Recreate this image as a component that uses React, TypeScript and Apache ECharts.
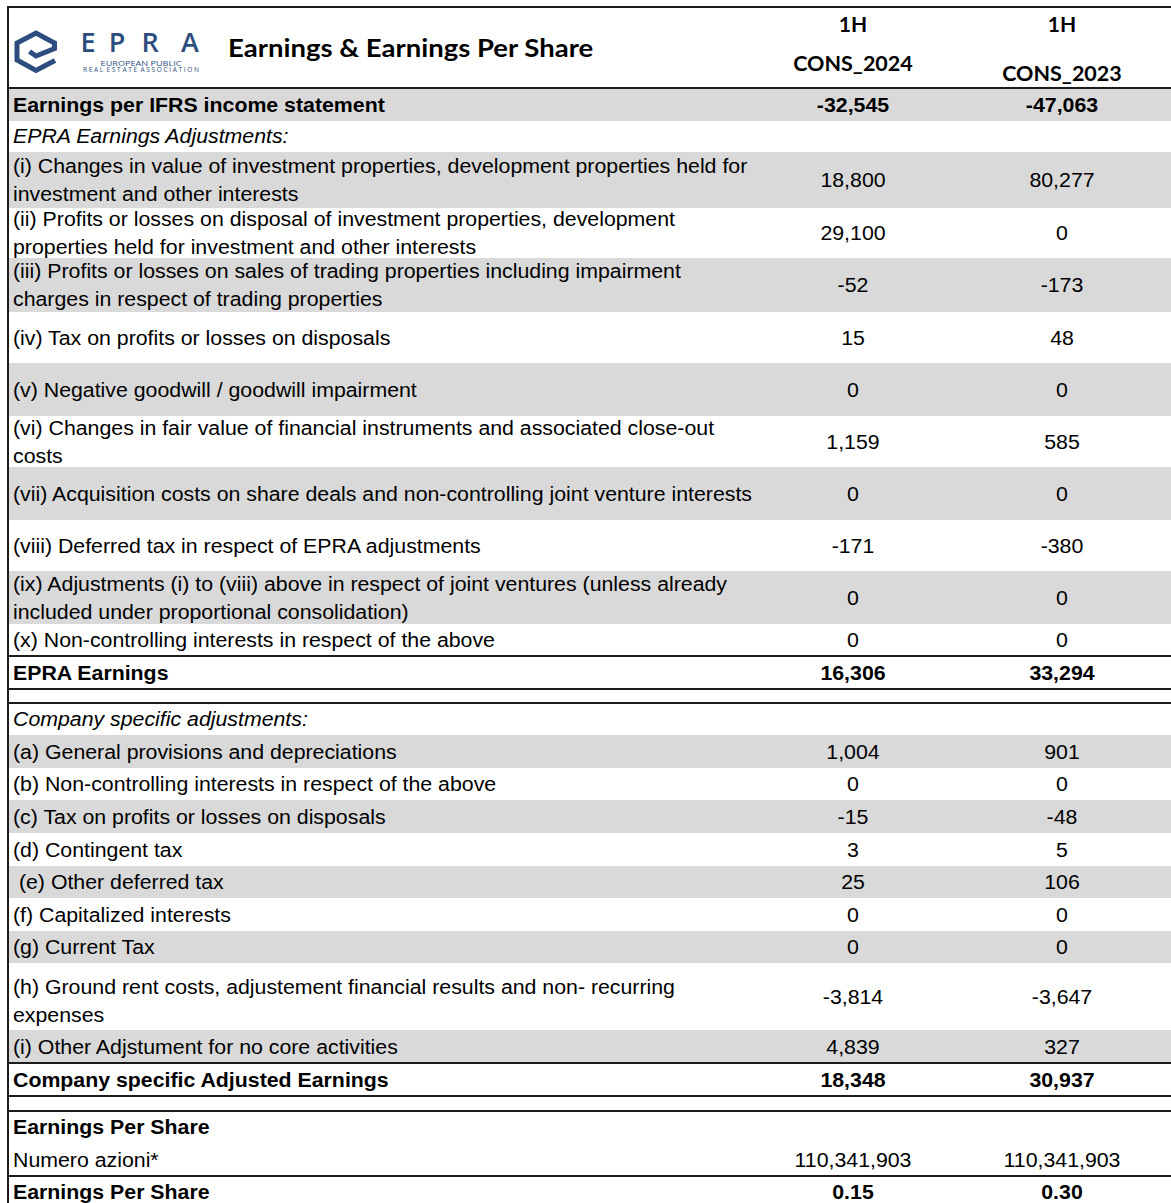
import React, { useEffect, useRef } from "react";
import * as echarts from "echarts";

// ---------- DATA ----------
const rowLabels: string[] = [
  "Earnings per IFRS income statement",
  "EPRA Earnings Adjustments:",
  "(i) Changes in value of investment properties, development properties held for\ninvestment and other interests",
  "(ii) Profits or losses on disposal of investment properties, development\nproperties held for investment and other interests",
  "(iii) Profits or losses on sales of trading properties including impairment\ncharges in respect of trading properties",
  "(iv) Tax on profits or losses on disposals",
  "(v) Negative goodwill / goodwill impairment",
  "(vi) Changes in fair value of financial instruments and associated close-out\ncosts",
  "(vii) Acquisition costs on share deals and non-controlling joint venture interests",
  "(viii) Deferred tax in respect of EPRA adjustments",
  "(ix) Adjustments (i) to (viii) above in respect of joint ventures (unless already\nincluded under proportional consolidation)",
  "(x) Non-controlling interests in respect of the above",
  "EPRA Earnings",
  "",
  "Company specific adjustments:",
  "(a) General provisions and depreciations",
  "(b) Non-controlling interests in respect of the above",
  "(c) Tax on profits or losses on disposals",
  "(d) Contingent tax",
  " (e) Other deferred tax",
  "(f) Capitalized interests",
  "(g) Current Tax",
  "(h) Ground rent costs, adjustement financial results and non- recurring\nexpenses",
  "(i) Other Adjstument for no core activities",
  "Company specific Adjusted Earnings",
  "",
  "Earnings Per Share",
  "Numero azioni*",
  "Earnings Per Share",
];

const values2024: (number | null)[] = [
  -32545, null, 18800, 29100, -52, 15, 0, 1159, 0, -171, 0, 0, 16306, null,
  null, 1004, 0, -15, 3, 25, 0, 0, -3814, 4839, 18348, null, null, 110341903, 0.15,
];
const values2023: (number | null)[] = [
  -47063, null, 80277, 0, -173, 48, 0, 585, 0, -380, 0, 0, 33294, null,
  null, 901, 0, -48, 5, 106, 0, 0, -3647, 327, 30937, null, null, 110341903, 0.3,
];

const columnPeriods = ["1H", "1H"];
const columnNames = ["CONS_2024", "CONS_2023"];
const title = "Earnings & Earnings Per Share";

// ---------- LAYOUT / STYLE ----------
// kinds: t = bold total, s = italic section, i = item, b = blank
const rowKinds = ["t","s","i","i","i","i","i","i","i","i","i","i","t","b","s","i","i","i","i","i","i","i","i","i","t","b","t","i","t"];
const rowShaded = [1,0,1,0,1,0,1,0,1,0,1,0,0,0,0,1,0,1,0,1,0,1,0,1,0,0,0,0,0];
const rowHeights = [33,31,56,50,54,51,53,51,53,51,53,32,33,14,32,33,32,33,33,32,33,32,67,33,33,15,32,33,32];
const labelShift: Record<number, number> = { 1: -1, 22: 4 };
const ruleAfter = [11, 12, 13, 23, 24, 25, 27];
const decimalsRow = 28;

const W = 1171;
const H = 1203;
const TABLE_TOP = 88;
const LEFT = 7;
const COL_X = [853, 1062];
const GRAY = "#d9d9d9";
const LINE = "#1c1c1c";
const BODY_FONT = "Liberation Sans";
const BODY_SIZE = 20;
const STRETCH = 1.066;
const HEAD_FONT = "Lato";
const LOGO_FONT = "Open Sans";
const LOGO_BLUE = "#2c4d7e";

function fmt(v: number | null, idx: number): string {
  if (v === null) return "";
  const d = idx === decimalsRow ? 2 : 0;
  return v.toLocaleString("en-US", { minimumFractionDigits: d, maximumFractionDigits: d });
}

export default function App() {
  const ref = useRef<HTMLDivElement>(null);
  useEffect(() => {
    document.body.style.margin = "0";
    if (!ref.current) return;
    const chart = echarts.init(ref.current, null, { renderer: "svg" });

    const bounds: [number, number, number][] = [];
    let y = TABLE_TOP;
    rowHeights.forEach((h, i) => {
      bounds.push([i, y, y + h]);
      y += h;
    });

    const renderItem = (params: any, api: any) => {
      const idx = api.value(0);
      const top = api.value(1);
      const bottom = api.value(2);
      const pTL = api.coord([LEFT, top]);
      const pBR = api.coord([W, bottom]);
      const children: any[] = [];
      if (rowShaded[idx]) {
        children.push({
          type: "rect",
          shape: { x: pTL[0] + 1, y: pTL[1], width: pBR[0] - pTL[0], height: pBR[1] - pTL[1] },
          style: { fill: GRAY },
        });
      }
      const kind = rowKinds[idx];
      const weight = kind === "t" ? "bold" : "normal";
      const fstyle = kind === "s" ? "italic" : "normal";
      const cy = (pTL[1] + pBR[1]) / 2;
      if (rowLabels[idx]) {
        children.push({
          type: "text",
          x: api.coord([13, 0])[0],
          y: cy + (labelShift[idx] || 0),
          scaleX: STRETCH,
          style: {
            text: rowLabels[idx],
            x: 0,
            y: 0,
            align: "left",
            verticalAlign: "middle",
            fontFamily: BODY_FONT,
            fontSize: BODY_SIZE,
            fontWeight: weight,
            fontStyle: fstyle,
            lineHeight: 28,
            fill: "#000",
          },
        });
      }
      [values2024[idx], values2023[idx]].forEach((v, c) => {
        const s = fmt(v, idx);
        if (!s) return;
        children.push({
          type: "text",
          x: api.coord([COL_X[c], 0])[0],
          y: cy,
          scaleX: STRETCH,
          style: {
            text: s,
            x: 0,
            y: 0,
            align: "center",
            verticalAlign: "middle",
            fontFamily: BODY_FONT,
            fontSize: BODY_SIZE,
            fontWeight: weight,
            fill: "#000",
          },
        });
      });
      if (ruleAfter.indexOf(idx) >= 0) {
        children.push({
          type: "rect",
          shape: { x: pTL[0], y: pBR[1] - 1, width: pBR[0] - pTL[0], height: 2 },
          style: { fill: LINE },
        });
      }
      return { type: "group", children };
    };

    const graphic: any[] = [
      { type: "rect", shape: { x: LEFT, y: 6, width: W - LEFT, height: 2 }, style: { fill: LINE }, z: 100 },
      { type: "rect", shape: { x: LEFT, y: 6, width: 2, height: H }, style: { fill: LINE }, z: 100 },
      { type: "rect", shape: { x: LEFT, y: TABLE_TOP - 1, width: W - LEFT, height: 2 }, style: { fill: LINE }, z: 100 },
      {
        type: "polyline",
        shape: {
          points: [[55, 60.5], [36, 70.5], [17, 60], [17, 43], [36, 33], [54.5, 43], [54.5, 48.5], [36, 56], [29.5, 51.5]],
        },
        style: { stroke: LOGO_BLUE, lineWidth: 5, fill: "none", lineJoin: "miter" },
        z: 50,
      },
      ...["E", "P", "R", "A"].map((ch, i) => ({
        type: "text",
        style: {
          text: ch,
          x: [88, 117, 150, 190][i],
          y: 41.5,
          align: "center",
          verticalAlign: "middle",
          fontFamily: LOGO_FONT,
          fontSize: 27,
          lineHeight: 20,
          fontWeight: 600,
          fill: LOGO_BLUE,
        },
        z: 50,
      })),
      {
        type: "text",
        x: 141,
        y: 62.5,
        scaleX: 1.3,
        style: { text: "EUROPEAN PUBLIC", x: 0, y: 0, align: "center", verticalAlign: "middle", fontFamily: LOGO_FONT, fontSize: 7, lineHeight: 7, fill: LOGO_BLUE },
        z: 50,
      },
      {
        type: "text",
        style: { text: "R E A L  E S T A T E  A S S O C I A T I O N", x: 141, y: 69.5, align: "center", verticalAlign: "middle", fontFamily: LOGO_FONT, fontSize: 6.5, lineHeight: 6.5, fill: LOGO_BLUE },
        z: 50,
      },
      {
        type: "text",
        x: 228,
        y: 47,
        scaleX: 1.1,
        style: { text: title, x: 0, y: 0, align: "left", verticalAlign: "middle", fontFamily: HEAD_FONT, fontSize: 25, fontWeight: "bold", fill: "#000" },
        z: 50,
      },
      ...columnPeriods.map((p, c) => ({
        type: "text",
        style: { text: p, x: COL_X[c], y: 23, align: "center", verticalAlign: "middle", fontFamily: HEAD_FONT, fontSize: 21, fontWeight: "bold", fill: "#000" },
        z: 50,
      })),
      ...columnNames.map((n, c) => ({
        type: "text",
        style: { text: n, x: COL_X[c], y: c === 0 ? 63 : 73, align: "center", verticalAlign: "middle", fontFamily: HEAD_FONT, fontSize: 21.5, fontWeight: "bold", fill: "#000" },
        z: 50,
      })),
    ];

    chart.setOption({
      animation: false,
      backgroundColor: "#fff",
      grid: { left: 0, right: 0, top: 0, bottom: 0 },
      xAxis: { type: "value", min: 0, max: W, show: false },
      yAxis: { type: "value", min: 0, max: H, inverse: true, show: false },
      graphic,
      series: [
        {
          type: "custom",
          renderItem,
          data: bounds,
          clip: false,
          encode: { x: [1], y: [1, 2] },
          silent: true,
        },
      ],
    });
    return () => chart.dispose();
  }, []);
  return <div ref={ref} style={{ width: W, height: H }} />;
}
